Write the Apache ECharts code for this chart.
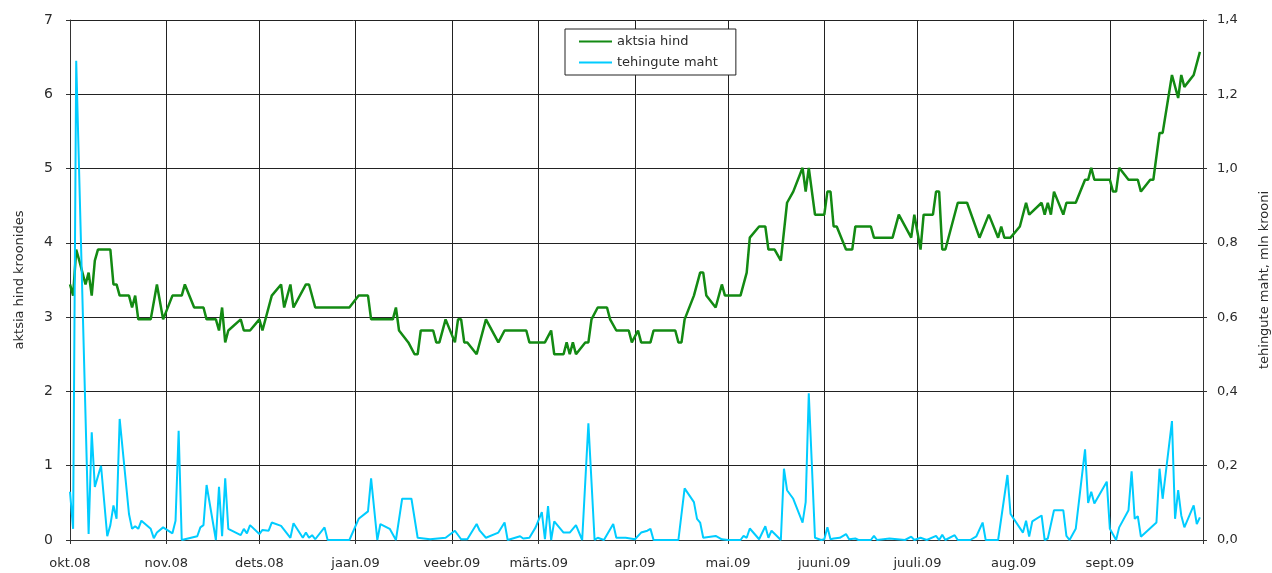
<!DOCTYPE html>
<html>
<head>
<meta charset="utf-8">
<script src="https://cdn.jsdelivr.net/npm/echarts@6/dist/echarts.min.js"></script>
<style>
html,body{margin:0;padding:0;background:#fff;overflow:hidden;}
#chart{width:1272px;height:573px;}
</style>
</head>
<body>
<div id="chart"></div>
<script>
// Calendar: daily categories from 2008-10-01 to 2009-10-01
const startDate = '2008-10-01';
const endDate = '2009-10-01';
const monthLabels = ['okt.08','nov.08','dets.08','jaan.09','veebr.09','märts.09','apr.09','mai.09','juuni.09','juuli.09','aug.09','sept.09'];
const leftTicks = {min: 0, max: 7, interval: 1};
const rightTicks = {min: 0, max: 1.4, interval: 0.2};
const seriesNames = ['aktsia hind', 'tehingute maht'];

// aktsia hind (kroonides): day offset from 2008-10-01 and price
const priceDay = [0,1,2,3,5,6,7,8,9,13,14,15,16,19,20,21,22,26,28,30,33,36,37,40,43,44,47,48,49,50,51,55,56,58,61,62,65,68,69,71,72,76,77,79,90,93,96,97,104,105,106,109,111,112,113,117,118,119,121,124,125,126,127,128,131,134,138,140,147,148,153,155,156,159,160,161,162,163,166,167,168,170,173,174,176,180,181,183,184,187,188,195,196,197,198,201,203,204,205,208,210,211,216,218,219,222,224,225,227,229,231,233,236,237,238,240,243,244,245,246,247,250,252,253,258,259,265,267,271,272,274,275,278,279,280,281,282,286,289,293,296,299,300,301,303,306,308,309,313,314,315,316,317,320,321,324,327,328,329,330,335,336,337,338,341,344,345,348,349,351,352,355,357,358,359,362,364];
const priceVal = [3.44,3.29,3.91,3.76,3.44,3.60,3.29,3.76,3.91,3.91,3.44,3.44,3.29,3.29,3.13,3.29,2.97,2.97,3.44,2.97,3.29,3.29,3.44,3.13,3.13,2.97,2.97,2.82,3.13,2.66,2.82,2.97,2.82,2.82,2.97,2.82,3.29,3.44,3.13,3.44,3.13,3.44,3.44,3.13,3.13,3.29,3.29,2.97,2.97,3.13,2.82,2.66,2.50,2.50,2.82,2.82,2.66,2.66,2.97,2.66,2.97,2.97,2.66,2.66,2.50,2.97,2.66,2.82,2.82,2.66,2.66,2.82,2.50,2.50,2.66,2.50,2.66,2.50,2.66,2.66,2.97,3.13,3.13,2.97,2.82,2.82,2.66,2.82,2.66,2.66,2.82,2.82,2.66,2.66,2.97,3.29,3.60,3.60,3.29,3.13,3.44,3.29,3.29,3.60,4.07,4.22,4.22,3.91,3.91,3.76,4.54,4.69,5.01,4.69,5.01,4.38,4.38,4.69,4.69,4.22,4.22,3.91,3.91,4.22,4.22,4.07,4.07,4.38,4.07,4.38,3.91,4.38,4.38,4.69,4.69,3.91,3.91,4.54,4.54,4.07,4.38,4.07,4.22,4.07,4.07,4.22,4.54,4.38,4.54,4.38,4.54,4.38,4.69,4.38,4.54,4.54,4.85,4.85,5.01,4.85,4.85,4.69,4.69,5.01,4.85,4.85,4.69,4.85,4.85,5.48,5.48,6.26,5.95,6.26,6.10,6.26,6.57];

// tehingute maht (mln krooni): day offset and volume
const volDay = [0,1,2,6,7,8,10,12,13,14,15,16,19,20,21,22,23,26,27,28,30,33,34,35,36,41,42,43,44,47,48,49,50,51,55,56,57,58,61,62,64,65,68,71,72,75,76,77,78,79,82,83,90,93,96,97,99,100,103,105,107,110,112,116,121,124,126,128,131,132,134,138,140,141,145,146,148,150,152,153,154,155,156,159,160,161,163,165,167,169,170,172,175,176,179,182,184,186,187,188,196,198,201,202,203,204,208,210,212,216,217,218,219,222,224,225,226,229,230,231,233,236,237,238,240,242,243,244,245,246,248,250,251,253,254,258,259,260,262,264,269,271,272,274,276,279,280,281,282,285,286,290,292,294,295,299,302,303,307,308,309,310,313,314,315,317,320,321,322,324,327,328,329,330,334,335,337,338,341,342,343,344,345,350,351,352,355,356,357,358,359,362,363,364];
const volVal = [0.13,0.03,1.29,0.016,0.29,0.143,0.20,0.01,0.04,0.093,0.057,0.326,0.07,0.03,0.037,0.03,0.052,0.03,0.005,0.02,0.034,0.018,0.052,0.294,0.0,0.01,0.034,0.04,0.148,0.0,0.143,0.01,0.166,0.03,0.013,0.03,0.018,0.04,0.016,0.027,0.025,0.047,0.038,0.006,0.045,0.006,0.02,0.006,0.013,0.002,0.034,0.0,0.0,0.057,0.077,0.166,0.0,0.043,0.03,0.0,0.111,0.111,0.006,0.002,0.006,0.025,0.002,0.002,0.043,0.025,0.006,0.02,0.047,0.0,0.01,0.004,0.006,0.034,0.075,0.002,0.091,0.0,0.05,0.02,0.02,0.02,0.04,0.0,0.314,0.0,0.006,0.0,0.043,0.006,0.006,0.002,0.02,0.025,0.03,0.0,0.0,0.139,0.102,0.057,0.047,0.006,0.011,0.002,0.0,0.0,0.011,0.006,0.031,0.002,0.037,0.006,0.025,0.0,0.192,0.134,0.111,0.047,0.102,0.395,0.006,0.0,0.002,0.034,0.002,0.004,0.006,0.016,0.002,0.004,0.0,0.0,0.011,0.0,0.002,0.004,0.0,0.009,0.0,0.006,0.0,0.011,0.0,0.014,0.0,0.013,0.0,0.0,0.01,0.047,0.0,0.0,0.175,0.07,0.02,0.052,0.009,0.05,0.066,0.0,0.004,0.08,0.08,0.011,0.0,0.03,0.244,0.10,0.13,0.098,0.157,0.03,0.0,0.034,0.08,0.185,0.057,0.064,0.009,0.047,0.192,0.111,0.32,0.057,0.134,0.066,0.034,0.093,0.043,0.061];

// build daily category list
function pad(n){return (n<10?'0':'')+n;}
const days = [];
{
  const d = new Date(startDate + 'T00:00:00Z');
  const e = new Date(endDate + 'T00:00:00Z');
  while (d <= e) {
    days.push(d.getUTCFullYear() + '-' + pad(d.getUTCMonth()+1) + '-' + pad(d.getUTCDate()));
    d.setUTCDate(d.getUTCDate()+1);
  }
}
const lastIdx = days.length - 1;
const isMonthStart = (idx, val) => val.slice(8) === '01';
const monthOf = (val) => {
  const y = +val.slice(0,4), m = +val.slice(5,7);
  return (y - 2008) * 12 + (m - 10);
};

const priceData = priceDay.map((d,i) => [d, priceVal[i]]);
const volData = volDay.map((d,i) => [d, volVal[i]]);

const txt = '#2b2b2b';
const font = 'DejaVu Sans';
const chart = echarts.init(document.getElementById('chart'), null, {renderer: 'canvas'});
chart.setOption({
  animation: false,
  backgroundColor: '#fff',
  textStyle: {fontFamily: font},
  grid: {left: 70, right: 69, top: 20, bottom: 33, containLabel: false, outerBoundsMode: 'none'},
  legend: {
    orient: 'vertical',
    left: 565, top: 29,
    data: seriesNames,
    icon: 'rect',
    backgroundColor: '#fff',
    borderColor: '#222', borderWidth: 1,
    padding: [6, 18, 6, 14],
    itemGap: 8,
    itemWidth: 33, itemHeight: 2,
    textStyle: {fontFamily: font, fontSize: 13, color: txt}
  },
  xAxis: {
    type: 'category',
    data: days,
    boundaryGap: false,
    axisLine: {lineStyle: {color: '#333', width: 1}},
    axisTick: {show: true, length: 4, interval: (i, v) => isMonthStart(i, v), lineStyle: {color: '#333'}},
    axisLabel: {
      interval: (i, v) => isMonthStart(i, v) && i < lastIdx,
      formatter: (v) => monthLabels[monthOf(v)] || '',
      margin: 17, fontSize: 13, color: txt, fontFamily: font
    },
    splitLine: {show: true, interval: (i, v) => isMonthStart(i, v), lineStyle: {color: '#222', width: 1}}
  },
  yAxis: [
    {
      type: 'value', min: leftTicks.min, max: leftTicks.max, interval: leftTicks.interval,
      position: 'left',
      name: 'aktsia hind kroonides', nameLocation: 'middle', nameRotate: 90, nameGap: 44,
      nameTextStyle: {fontSize: 13, color: txt, fontFamily: font},
      axisLine: {show: true, lineStyle: {color: '#333'}},
      axisTick: {show: true, length: 4, lineStyle: {color: '#333'}},
      axisLabel: {margin: 17, fontSize: 14, color: txt, fontFamily: font},
      splitLine: {show: true, lineStyle: {color: '#222', width: 1}}
    },
    {
      type: 'value', min: rightTicks.min, max: rightTicks.max, interval: rightTicks.interval,
      position: 'right',
      name: 'tehingute maht, mln krooni', nameLocation: 'middle', nameRotate: 90, nameGap: 55,
      nameTextStyle: {fontSize: 13, color: txt, fontFamily: font},
      axisLine: {show: true, lineStyle: {color: '#333'}},
      axisTick: {show: true, length: 4, lineStyle: {color: '#333'}},
      axisLabel: {margin: 14, fontSize: 13, color: txt, fontFamily: font,
        formatter: (v) => v.toFixed(1).replace('.', ',')},
      splitLine: {show: false}
    }
  ],
  series: [
    {
      name: seriesNames[0], type: 'line', yAxisIndex: 0, data: priceData,
      symbol: 'none', showSymbol: false,
      lineStyle: {color: '#138a13', width: 2.5},
      itemStyle: {color: '#138a13'}
    },
    {
      name: seriesNames[1], type: 'line', yAxisIndex: 1, data: volData,
      symbol: 'none', showSymbol: false,
      lineStyle: {color: '#00ccff', width: 2},
      itemStyle: {color: '#00ccff'}
    }
  ]
});
</script>
</body>
</html>
